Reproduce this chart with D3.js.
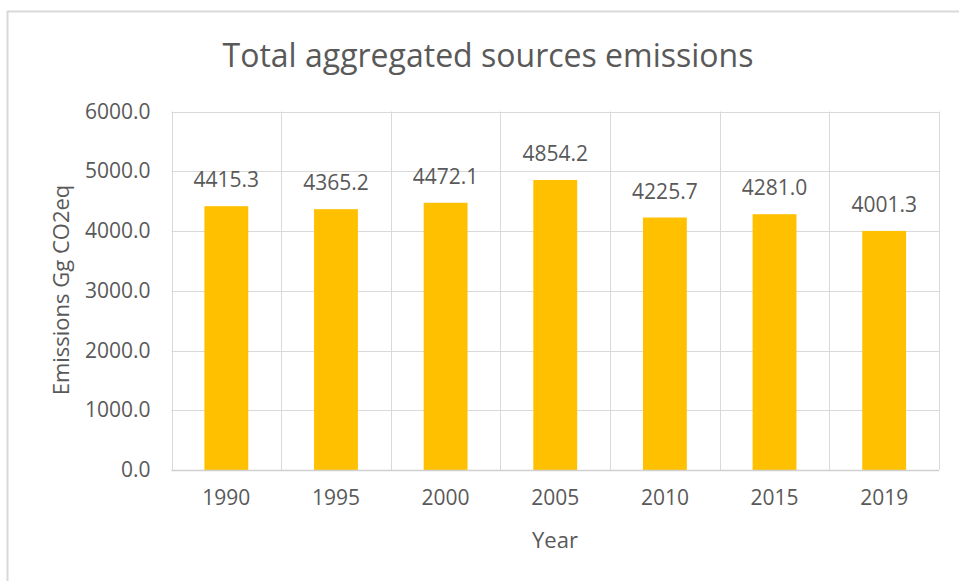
<!DOCTYPE html>
<html><head><meta charset="utf-8">
<script src="https://cdn.jsdelivr.net/npm/d3@7"></script>
<style>body{margin:0;background:#fff}svg{display:block}text{font-family:"Open Sans",sans-serif;fill:#595959}</style>
</head><body><svg id="c" width="959" height="581"></svg>
<script>
const years = ["1990","1995","2000","2005","2010","2015","2019"];
const emissions = [4415.3, 4365.2, 4472.1, 4854.2, 4225.7, 4281.0, 4001.3];
const yTicks = [0, 1000, 2000, 3000, 4000, 5000, 6000];
const titleText = "Total aggregated sources emissions";
const xTitle = "Year";
const yTitle = "Emissions Gg CO2eq";

const svg = d3.select("#c");
const L = 171.5, R = 939, T = 111.5, B = 470;
const x = d3.scaleBand().domain(years).range([L, R]).paddingInner(0.6).paddingOuter(0.3);
const xb = d3.scaleBand().domain(years).range([L, R]);
const y = d3.scaleLinear().domain([0, 6000]).range([B, T]);

// chart border
svg.append("rect").attr("x", 7.5).attr("y", 11.5).attr("width", 1000).attr("height", 700)
  .attr("fill", "none").attr("stroke", "#d9d9d9").attr("stroke-width", 2);

// title
svg.append("text").attr("x", 488).attr("y", 67).attr("text-anchor", "middle")
  .attr("font-size", 32).text(titleText);

// horizontal gridlines
svg.append("g").selectAll("line").data(yTicks.filter(d => d > 0)).join("line")
  .attr("x1", L).attr("x2", R).attr("y1", d => Math.round(y(d)) + 0.5).attr("y2", d => Math.round(y(d)) + 0.5)
  .attr("stroke", "#d9d9d9").attr("stroke-width", 1);
// vertical gridlines at category boundaries
const bounds = years.map(d => xb(d)).concat([R]);
svg.append("g").selectAll("line").data(bounds).join("line")
  .attr("x1", d => Math.round(d) + 0.5).attr("x2", d => Math.round(d) + 0.5).attr("y1", T).attr("y2", B)
  .attr("stroke", "#d9d9d9").attr("stroke-width", 1);

// bars
svg.append("g").selectAll("rect").data(emissions).join("rect")
  .attr("x", (d, i) => x(years[i])).attr("width", x.bandwidth())
  .attr("y", d => y(d)).attr("height", d => B - y(d)).attr("fill", "#FFC000");

// x axis line
svg.append("line").attr("x1", L).attr("x2", R).attr("y1", B + 0.5).attr("y2", B + 0.5)
  .attr("stroke", "#d0d0d0").attr("stroke-width", 1.5);

// data labels
svg.append("g").selectAll("text").data(emissions).join("text")
  .attr("x", (d, i) => x(years[i]) + x.bandwidth() / 2).attr("y", d => y(d) - 19)
  .attr("text-anchor", "middle").attr("font-size", 21).text(d => d.toFixed(1));

// y axis labels
const yAxis = d3.axisLeft(y).tickValues(yTicks).tickFormat(d => d.toFixed(1)).tickSize(0).tickPadding(21);
const ga = svg.append("g").attr("transform", `translate(${L},0)`).call(yAxis);
ga.select(".domain").remove();
ga.selectAll("text").attr("font-size", 21).attr("font-family", "Open Sans").attr("fill", "#595959");

// x axis labels
const xAxis = d3.axisBottom(xb).tickSize(0).tickPadding(20);
const gx = svg.append("g").attr("transform", `translate(0,${B})`).call(xAxis);
gx.select(".domain").remove();
gx.selectAll("text").attr("font-size", 21).attr("font-family", "Open Sans").attr("fill", "#595959");

// axis titles
svg.append("text").attr("x", 555).attr("y", 548).attr("text-anchor", "middle").attr("font-size", 22).text(xTitle);
svg.append("text").attr("transform", "translate(69,290) rotate(-90)").attr("text-anchor", "middle")
  .attr("font-size", 22).text(yTitle);
</script></body></html>
